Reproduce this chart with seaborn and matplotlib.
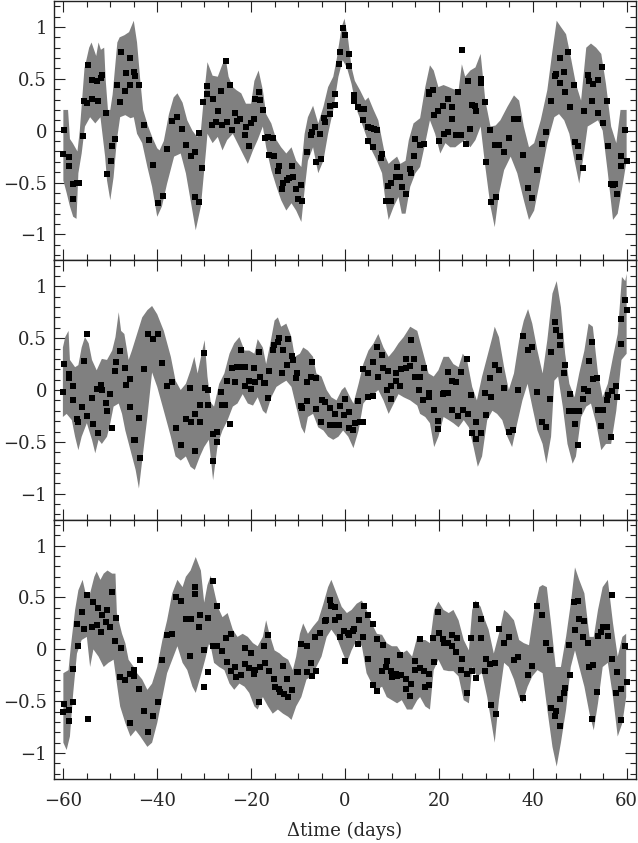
import matplotlib

matplotlib.use("Agg")
import matplotlib.pyplot as plt
import numpy as np
import seaborn as sns
from matplotlib.ticker import FuncFormatter, MultipleLocator

# ---- panel 1 -------------------------------------------------------------
band1_hi_x = [-60, -59, -58.6, -58, -57, -56.5, -56, -55.5, -54.5, -54, -53, -52.5, -52, -51.3, -51,
              -50.5, -50, -49.5, -49, -48.5, -48, -47, -46, -45, -44.3, -43.6, -43, -42, -41, -40,
              -39.5, -38.6, -37.5, -36.5, -35.7, -34.6, -33.6, -32.5, -31.5, -30.7, -30, -29.3,
              -28.2, -27.1, -26.1, -25.4, -24.8, -23.9, -23.1, -22.1, -21.1, -20, -19.3, -18.4,
              -17.5, -16.8, -15.7, -14.6, -13.6, -12.5, -11.4, -10.4, -9.3, -8.6, -7.9, -6.8, -5.7,
              -4.6, -3.6, -2.5, -1.8, -0.7, -0.1, 0.7, 1.4, 2.1, 3.2, 4.3, 5, 6.1, 7.1, 7.9, 8.6,
              9.3, 10, 11.1, 11.8, 12.9, 13.6, 14.6, 16, 17.1, 18.1, 18.9, 19.9, 21, 22.1, 23.1,
              24.2, 24.9, 25.6, 26.7, 27.8, 28.9, 29.9, 31, 32.1, 33.1, 34.6, 36, 37.1, 38.1, 39.2,
              40.3, 41.7, 43.1, 44.2, 45.1, 46, 47.1, 48.1, 49.2, 50.3, 51.4, 52.4, 53.5, 54.6,
              55.6, 56.7, 57.8, 58.7, 59.7, 60]
band1_hi = [0.20, 0.20, -0.08, -0.12, -0.2, 0.0, 0.3, 0.6, 0.80, 0.85, 0.72, 0.85, 0.78, 0.8, 0.5,
            0.2, 0.2, 0.35, 0.6, 0.85, 0.9, 0.92, 0.95, 1.06, 0.85, 0.48, 0.2, 0.05, -0.07, -0.17,
            -0.19, -0.1, 0.16, 0.32, 0.36, 0.27, 0.1, 0.0, -0.06, 0.0, 0.35, 0.66,
            0.53, 0.52, 0.64, 0.69, 0.52, 0.42, 0.39, 0.36, 0.26, 0.26, 0.48, 0.58,
            0.39, 0.16, 0.07, -0.09, -0.16, -0.22, -0.16, -0.29, -0.35, -0.03, 0.13, 0.24, 0.07,
            0.23, 0.42, 0.52, 0.68, 1.0, 1.08, 0.87, 0.61, 0.48, 0.39, 0.29, 0.32, 0.2, 0.1, -0.09, -0.25,
            -0.32, -0.29, -0.25, -0.32, -0.29, -0.09, 0.07, 0.12, 0.42, 0.63, 0.58, 0.42, 0.44, 0.42, 0.40,
            0.39, 0.64, 0.52, 0.58, 0.61, 0.74, 0.29, 0.04, 0.05, 0.1, 0.23, 0.34, 0.29, 0.04, -0.16,
            -0.12, 0.1, 0.39, 0.77, 1.06, 1.0, 0.93, 0.71, 0.45, 0.29, 0.8, 0.84, 0.8, 0.74,
            0.45, 0.04, -0.12, 0.2, 0.2, 0.2]
band1_lo_x = [-60, -59.3, -58.6, -57.9, -57.2, -56.8, -56.1, -55.4, -54.3, -53.2, -52.1, -51.1, -50.7,
              -50, -49.3, -48.6, -47.9, -46.8, -45.7, -45, -44.3, -43.2, -42.1, -41.1, -40, -39,
              -37.9, -36.4, -35, -33.9, -32.9, -31.8, -30.7, -29.6, -29.3, -28.2, -27.1, -26.1,
              -25.1, -23.9, -22.9, -21.8, -20.7, -19.6, -18.6, -17.5, -16.8, -15.7, -14.6, -13.6,
              -12.5, -11.4, -10.4, -9.3, -8.6, -7.9, -6.8, -5.7, -4.6, -3.6, -2.5, -1.4, -0.5, 0.4,
              1.4, 2.5, 3.6, 4.6, 5.7, 6.8, 7.9, 8.6, 9.3, 10.4, 11.4, 12.1, 12.9, 13.9, 15, 16,
              17.1, 18.1, 19.2, 20.3, 21.4, 22.4, 23.5, 24.6, 25.6, 26.7, 27.8, 28.9, 29.9, 31, 31.9,
              32.8, 33.9, 35.3, 36.7, 38.1, 39.2, 40.3, 41.7, 43.1, 44.6, 45.6, 46.7, 47.8, 48.9,
              49.9, 51, 51.7, 52.8, 53.9, 54.9, 56, 57.1, 58.1, 59.1, 60]
band1_lo = [-0.48, -0.6, -0.73, -0.83, -0.85, -0.41, -0.22, 0.04, 0.13, 0.07, 0.13, -0.25, -0.48,
            -0.67, -0.45, -0.09, 0.13, 0.15, 0.12, 0.13, -0.03, -0.12, -0.35, -0.54, -0.83, -0.73,
            -0.51, -0.25, -0.22, -0.41, -0.67, -0.96, -0.73, -0.19, -0.03, -0.12, -0.06, -0.19,
            -0.09, -0.03, -0.12, -0.22, -0.32, -0.19, -0.09, 0.04, -0.16, -0.38, -0.54, -0.67,
            -0.77, -0.70, -0.77, -0.88, -0.57, -0.29, -0.16, -0.41, -0.29, -0.03, 0.20, 0.52, 0.68, 0.61,
            0.45, 0.2, 0.07, -0.06, -0.19, -0.29, -0.41, -0.67, -0.86, -0.73, -0.64, -0.80, -0.80, -0.54, -0.41, -0.35,
            -0.12, 0.1, -0.03, -0.22, -0.12, -0.16, -0.16, -0.12, -0.09, -0.16, -0.09, 0.04, -0.35, -0.73, -0.93,
            -0.61, -0.38, -0.25, -0.41, -0.67, -0.86, -0.77, -0.45, -0.12, 0.13, 0.16, 0.1, -0.03, -0.29,
            -0.51, -0.19, 0.04, 0.07, 0.1, 0, -0.41, -0.86, -0.80, -0.54, -0.29]
pts1_x = [-60, -59.8, -58.9, -58.8, -58, -57.9, -57, -56.6, -55.9, -55.7, -55, -54.7, -53.9, -53.8,
          -52.9, -52.7, -52, -51.7, -50.9, -50.7, -49.9, -49.7, -48.9, -48.6, -47.9, -47.7, -46.9,
          -46.6, -45.9, -45.7, -45, -44.7, -43.9, -42.9, -41.8, -40.9, -39.8, -38.8, -37.9, -36.8,
          -35.7, -34.8, -33.8, -32.9, -31.9, -32, -31, -31.1, -30.4, -30.2, -29.3, -29.3, -28.2,
          -28.4, -27.4, -27.1, -26.4, -26.1, -25.4, -25.2, -24.4, -24.1, -23.4, -23.1, -22.3, -21.4,
          -21.1, -20.4, -20.1, -19.3, -19.1, -18.4, -18.1, -17.4, -17, -16.3, -15.4, -16.2, -15.2,
          -14.1, -14.3, -13.2, -13.4, -12.4, -11.9, -11.2, -11.1, -10.4, -10.1, -9.3, -9.1, -8.2,
          -7.3, -7.1, -6.3, -6.1, -5.2, -5.4, -4.4, -4.2, -3.2, -3.1, -2.1, -2.1, -1.2, -1, -0.4,
          -0.1, 0.8, 0.9, 1.9, 2, 2.7, 3.4, 4, 3.8, 5, 5.5, 6.1, 6.8, 4.8, 5.9, 7.9, 7.6, 9.1, 9.9,
          8.8, 9.8, 11.1, 10.9, 11.8, 12.1, 13, 13.8, 14.1, 15, 14.8, 15.9, 16.9, 17.8, 17.9, 18.7,
          19, 19.8, 20, 20.8, 21, 21.9, 22, 22.8, 22.9, 23.7, 24, 24.7, 25, 25.8, 26.1, 26.7, 27.1,
          27.8, 28, 28.9, 28.9, 29.8, 30, 30.9, 31.1, 31.9, 32.1, 32.9, 33.9, 34.9, 35.9, 36.8,
          37.9, 38.9, 39.9, 40.9, 41.9, 42.9, 43.9, 44.8, 44.9, 45.7, 45.9, 46.7, 46.9, 47.6, 47.9,
          48.7, 48.9, 49.6, 49.9, 50.7, 51, 51.7, 51.9, 52.7, 52.9, 53.8, 53.9, 54.7, 54.9, 55.8,
          56, 56.7, 57.1, 57.6, 57.9, 58.8, 58.9, 59.7, 60]
pts1_y = [-0.22, 0.01, -0.25, -0.34, -0.66, -0.51, -0.50, -0.50, -0.05, 0.29, 0.27, 0.63, 0.31, 0.49,
          0.48, 0.29, 0.51, 0.54, 0.17, -0.42, -0.29, -0.15, -0.08, 0.44, 0.28, 0.76, 0.38,
          0.56, 0.44, 0.70, 0.57, 0.53, 0.44, 0.05, -0.09, -0.33, -0.70, -0.63, -0.18, 0.09,
          0.13, 0.02, -0.14, -0.24, -0.21, -0.64, -0.69, -0.02, -0.36, 0.28, 0.43, 0.35, 0.31,
          0.05, 0.08, 0.19, 0.38, 0.05, 0.67, 0.08, 0.44, 0.01, 0.17, 0.09, 0.11, -0.04,
          0.04, -0.15, 0.07, 0.11, 0.31, 0.37, 0.30, 0.2, -0.07, -0.06, -0.07, -0.23, -0.24,
          -0.34, -0.39, -0.50, -0.56, -0.48, -0.46, -0.34, -0.45, -0.56, -0.66, -0.52, -0.68, -0.21,
          -0.04, -0.01, 0.04, -0.30, -0.27, -0.03, 0.12, 0.08, 0.24, 0.16, 0.35, 0.25, 0.64, 0.76, 0.99,
          0.92, 0.74, 0.62, 0.34, 0.29, 0.23, 0.21, 0.21, 0.10, 0.04, 0.03, 0.02, 0.01, -0.10, -0.16, -0.22, -0.26, -0.53, -0.5,
          -0.68, -0.68, -0.35, -0.45, -0.45, -0.54, -0.61, -0.37, -0.41, -0.08, -0.24, -0.14, -0.13, 0.37, 0.35, 0.39,
          0.15, 0.19, -0.10, 0.24, -0.03, 0.31, -0.01, 0.23, 0.11, -0.04, 0.37, -0.04, 0.78, -0.13, 0.48, 0.02, 0.25,
          0.24, 0.19, 0.50, 0.46, 0.28, -0.30, 0.01, -0.69, -0.14, -0.64, -0.14, -0.21, -0.07, 0.11, 0.11,
          -0.23, -0.55, -0.65, -0.38, -0.13, -0.01, 0.29, 0.53, 0.55, 0.70, 0.46, 0.57, 0.37, 0.76, 0.23,
          0.44, -0.11, -0.15, -0.25, -0.36, 0.19, 0.54, 0.48, 0.29, 0.45, 0.49, 0.17, 0.61, 0.07, 0.29,
          -0.15, -0.51, -0.52, -0.51, -0.61, -0.34, -0.24, 0.01, -0.29]

# ---- panel 2 -------------------------------------------------------------
band2_hi_x = [-60.1, -59.6, -58.9, -58.6, -57.5, -56.8, -56.1, -55.4, -54.6, -53.9, -52.9, -51.8,
              -50.7, -49.6, -48.9, -48.2, -47.7, -47, -46.1, -45.4, -44.3, -43.2, -42.1, -41.1, -40,
              -38.6, -37.1, -36.1, -35, -33.9, -32.9, -32.1, -31.4, -30.4, -29.9, -29.3, -28.6,
              -27.9, -26.8, -25.7, -24.6, -23.6, -22.5, -21.4, -20.4, -19.3, -18.6, -17.5, -16.8,
              -15.9, -15, -14.3, -13.6, -12.5, -11.4, -10.7, -9.6, -8.9, -7.9, -6.8, -6.1, -5, -3.9,
              -2.9, -1.8, -0.7, 0, 1.1, 1.8, 2.9, 3.9, 5, 6.1, 7.1, 8.2, 9.3, 10.4, 11.4, 12.5, 13.9,
              15.4, 16.7, 17.8, 18.9, 19.9, 21, 22.1, 23.1, 24.2, 25.1, 26, 27.1, 28.1, 29.2, 30.3,
              31.4, 31.9, 32.8, 33.9, 34.9, 36, 37.1, 38.1, 39, 39.9, 41, 42.1, 43.1, 44.2, 45.1, 46,
              46.9, 47.8, 48.9, 49.9, 51, 51.9, 52.8, 53.9, 54.9, 56, 57.1, 58.1, 59, 59.7, 60]
band2_hi = [0.41, 0.51, 0.57, 0.29, 0.22, 0.24, 0.41, 0.51, 0.45, 0.29, 0.19, 0.30,
            0.29, 0.38, 0.51, 0.75, 0.57, 0.54, 0.29, 0.38, 0.54, 0.70, 0.77, 0.81, 0.73,
            0.57, 0.32, 0.09, 0.0, 0.06, 0.19, 0.32, 0.16, 0.38, 0.48, 0.13, -0.12,
            -0.16, 0.06, 0.16, 0.35, 0.45, 0.51, 0.38, 0.38, 0.35, 0.49, 0.41, 0.25,
            0.45, 0.67, 0.70, 0.61, 0.64, 0.51, 0.32, 0.35, 0.41, 0.38, 0.32, 0.16, 0.13, 0.0,
            -0.07, -0.10, 0.0, 0.03, -0.07, -0.13, 0.06, 0.25, 0.38, 0.45, 0.54, 0.41, 0.32, 0.38, 0.45, 0.51, 0.61,
            0.57, 0.35, 0.16, 0.13, 0.19, 0.32, 0.32, 0.25, 0.22, 0.35, 0.29, 0.03, -0.10, 0.13, 0.32,
            0.51, 0.61, 0.51, 0.22, 0.0, 0.16, 0.48, 0.67, 0.78, 0.64, 0.38, 0.16, 0.48, 0.93, 1.05, 0.80,
            0.35, 0.06, -0.07, 0.16, 0.38, 0.64, 0.61, 0.16, -0.07, 0.06, 0.32, 0.54, 1.09, 1.05, 1.12]
band2_lo_x = [-60.1, -59.3, -58.2, -57.5, -56.8, -56.1, -55, -53.9, -53.2, -52.5, -51.8, -50.7, -50,
              -49.3, -48.2, -47.5, -46.8, -45.7, -44.6, -43.9, -43.2, -42.1, -41.1, -40, -38.6,
              -37.1, -36.1, -35, -33.9, -32.9, -32, -30.9, -30, -29, -28.1, -27.1, -26.1, -25,
              -23.9, -22.9, -21.8, -20.7, -19.6, -18.6, -17.5, -16.8, -15.7, -14.6, -13.6, -12.5,
              -11.4, -10.4, -9.3, -8.6, -7.9, -6.8, -5.7, -4.6, -3.6, -2.5, -1.4, -0.4, 0.7, 1.8,
              2.9, 3.9, 5, 6.1, 7.1, 8.2, 9.3, 10.4, 11.4, 12.5, 13.9, 15.4, 16, 17.1, 18.1, 19,
              19.9, 21, 22.1, 23.1, 24.2, 25.3, 26.4, 27.4, 28.3, 29.2, 30.3, 31.4, 32.4, 33.5,
              34.6, 35.6, 36.7, 37.8, 38.9, 39.9, 41, 42.1, 42.9, 43.9, 44.6, 45.4, 46.4, 47.4,
              48.5, 49.2, 50.3, 51.4, 52.4, 53.5, 54.6, 55.6, 56.7, 57.8, 58.9, 60]
band2_lo = [-0.26, -0.23, -0.29, -0.45, -0.58, -0.45, -0.32, -0.48, -0.61, -0.48, -0.52, -0.45, -0.32,
            -0.16, -0.13, -0.23, -0.39, -0.58, -0.77, -0.95, -0.68, -0.26, 0.17, 0.03, -0.2,
            -0.45, -0.64, -0.68, -0.64, -0.74, -0.77, -0.64, -0.55, -0.48, -0.87, -0.52, -0.39, -0.29,
            -0.16, -0.13, -0.04, -0.13, -0.15, -0.07, -0.20, -0.23, -0.07, 0.03, 0.06, 0.09,
            0.03, -0.16, -0.36, -0.42, -0.26, -0.23, -0.36, -0.39, -0.45, -0.48, -0.45, -0.39, -0.45, -0.56,
            -0.39, -0.13, -0.07, -0.04, 0, -0.10, -0.23, -0.13, -0.04, -0.07, -0.10, -0.15, -0.23, -0.26, -0.32, -0.55,
            -0.45, -0.26, -0.29, -0.32, -0.36, -0.29, -0.36, -0.55, -0.74, -0.64, -0.29, -0.2, -0.23, -0.29,
            -0.45, -0.55, -0.32, -0.10, 0.06, -0.16, -0.39, -0.52, -0.71, -0.45, 0.09, 0.13, -0.16, -0.52,
            -0.71, -0.64, -0.26, -0.16, -0.13, -0.32, -0.58, -0.52, -0.52, -0.20, 0.29, 0.35]
pts2_x = [-60, -59.8, -58.9, -58.7, -57.9, -58, -57, -56.8, -56, -55.7, -54.9, -54.9, -53.9, -53.7,
          -52.9, -52.7, -51.9, -51.8, -50.9, -50.7, -50, -49.7, -48.9, -48.7, -47.9, -46.9, -46.7,
          -45.7, -45.9, -45, -44.8, -43.9, -43.7, -42.9, -42, -40.9, -39.9, -38.9, -37.9, -36.9,
          -35.9, -34.9, -33.9, -33, -32.9, -32, -31.9, -30.9, -30.9, -30.1, -29.9, -29.1, -29.1,
          -28.1, -28.1, -27.2, -27.2, -26.4, -26.2, -25.5, -25.1, -24.4, -24.1, -23.4, -23.1,
          -22.1, -22.4, -21.3, -21.3, -20.4, -20.1, -19.4, -19.1, -18.4, -18.1, -17.3, -17, -16.4,
          -16.2, -15.4, -15.2, -14.3, -14.1, -13.2, -13.4, -12.4, -12.1, -11.3, -11.1, -10.4, -10.2,
          -9.3, -9.1, -8.2, -8.2, -7.3, -7, -6.2, -6.2, -5.2, -5, -4.2, -3.2, -3.1, -2.1, -2.2,
          -1.2, -1.1, -0.1, -0.2, 0.9, 0.9, 1.8, 2.1, 2.7, 3.1, 3.9, 3.9, 4.8, 5, 5.9, 6, 6.8, 7,
          7.9, 8, 8.9, 9.1, 9.9, 9.9, 10.9, 10.9, 11.8, 12, 12.9, 13.1, 13.8, 14.1, 15, 14.8, 15.9,
          15.7, 16.9, 16.7, 17.8, 17.9, 18.9, 19.8, 19.9, 20.8, 21, 21.9, 21.9, 22.8, 23.7, 22.9,
          24, 24.8, 25.1, 25.9, 26.1, 26.9, 27.1, 28, 27.9, 28.9, 30, 29.8, 30.9, 31, 32, 32.9,
          33.9, 34.9, 35.8, 36.9, 37.9, 38.9, 39.9, 40.9, 41.9, 42.9, 43.6, 43.9, 44.7, 44.9, 45.7,
          45.9, 46.7, 46.9, 47.9, 47.7, 48.7, 48.9, 49.9, 49.7, 50.8, 51, 51.8, 51.9, 52.7, 52.9,
          53.7, 53.9, 54.9, 54.6, 55.8, 56, 56.9, 56.7, 57.7, 57.9, 58.7, 58.9, 59.7, 60]
pts2_y = [-0.02, 0.25, 0.15, 0.12, 0.04, -0.1, -0.28, -0.31, -0.16, 0.28, 0.54, -0.25, -0.08, -0.33,
          0.01, -0.41, 0.05, 0.0, -0.13, -0.20, -0.04, -0.37, 0.18, 0.27, 0.38, 0.21, 0.05,
          0.11, -0.16, -0.48, -0.48, -0.27, -0.66, 0.20, 0.54, 0.49, 0.54, 0.26, 0.04, 0.08,
          -0.37, -0.53, -0.28, 0.02, -0.31, -0.23, -0.59, -0.14, -0.31, 0.36, 0.02, 0, -0.14,
          -0.42, -0.68, -0.40, -0.50, -0.02, -0.14, -0.14, 0.09, -0.33, 0.21, 0.08, 0.22,
          0.39, 0.22, 0.22, 0.04, 0.09, 0.01, 0.21, 0.08, 0.37, 0.13, 0.07, 0.07, -0.08,
          0.18, 0.39, 0.43, 0.46, 0.50, 0.39, 0.16, 0.24, 0.49, 0.33, 0.29, 0.12, 0.16,
          -0.15, -0.17, 0.08, -0.11, 0.13, 0.27, 0.12, -0.18, -0.31, -0.10, -0.12, -0.17, -0.34, -0.34, -0.23,
          -0.34, -0.15, -0.09, -0.24, -0.21, -0.37, -0.39, -0.32, -0.11, -0.31, 0.20, -0.31, 0.16, -0.07, 0.27, -0.06, 0.41, 0.13,
          0.34, 0.21, 0, 0.18, -0.09, 0.04, 0.16, 0.09, 0.04, 0.20, 0.21, 0.30, 0.23, 0.48, 0.13, 0.30, 0.13,
          0, 0.21, -0.10, -0.07, -0.03, -0.19, -0.30, -0.38, -0.04, -0.03, -0.03, 0.17, 0.09, 0.08, -0.19,
          -0.25, 0.17, -0.19, 0.30, -0.23, -0.05, -0.41, -0.31, -0.47, -0.41, -0.24, -0.03, 0.12, -0.07, 0.24, 0.19,
          0.02, -0.40, -0.39, 0, 0.52, 0.39, 0.41, -0.02, -0.31, -0.36, -0.09, 0.37, 0.66, 0.58, 0.52,
          0.43, 0.16, 0.24, -0.04, -0.20, -0.20, -0.33, -0.20, -0.53, -0.09, 0.01, -0.01, 0.28, 0.46, 0.11,
          0.12, -0.19, -0.19, -0.35, -0.10, -0.05, -0.01, -0.45, 0.04, -0.07, 0.68, 0.44, 0.87, 0.77]

# ---- panel 3 -------------------------------------------------------------
band3_hi_x = [-60, -58.9, -58.4, -57.5, -56.8, -55.9, -55.1, -54.3, -53.4, -52.9, -52.1, -51.4, -50.6,
              -49.6, -48.9, -48.6, -47.5, -46.8, -46.1, -45, -44.3, -43.2, -42.1, -41.1, -40, -38.9,
              -37.9, -36.8, -35.7, -34.6, -33.9, -32.9, -31.8, -30.7, -30, -29.3, -28.6, -27.9,
              -27.1, -26.1, -25, -23.9, -22.9, -21.8, -20.7, -19.6, -18.6, -17.5, -16.8, -16.1, -15,
              -13.9, -13.2, -12.1, -11.1, -10.4, -9.6, -8.9, -7.9, -6.8, -5.7, -4.6, -3.6, -2.9, -1.8,
              -0.7, 0.4, 1.4, 2.5, 3.6, 4.6, 5.7, 6.8, 7.9, 8.9, 10, 11.1, 12.1, 13.2, 14.3, 15.4, 16,
              17.1, 18.1, 19, 19.9, 21, 22.1, 23.1, 24.2, 25.3, 26.4, 27.1, 27.8, 28.9, 29.6, 30.6,
              31.7, 32.8, 33.9, 34.7, 36, 37.1, 38.1, 39.2, 40.3, 41.4, 42.1, 43, 43.9, 44.9, 46,
              47.1, 48.1, 49, 49.9, 51, 52.1, 53, 53.9, 54.9, 56, 57.1, 58.1, 59.1, 59.9]
band3_hi = [-0.23, -0.20, 0.03, 0.38, 0.57, 0.67, 0.51, 0.54, 0.70, 0.75, 0.67, 0.73, 0.76,
            0.73, 0.73, 0.35, 0.15, 0.06, -0.10, -0.17, -0.23, -0.29, -0.39, -0.33, -0.17, 0.09,
            0.28, 0.54, 0.67, 0.60, 0.70, 0.76, 0.89, 0.76, 0.45, 0.62, 0.71, 0.57,
            0.41, 0.31, 0.35, 0.19, 0.12, 0.15, 0.12, 0.06, 0.03, 0.12, 0.28, 0.15, -0.01,
            -0.04, -0.07, -0.10, -0.20, -0.07, 0.15, 0.25, 0.15, 0.22, 0.28, 0.44, 0.6, 0.67, 0.54,
            0.41, 0.35, 0.38, 0.44, 0.47, 0.38, 0.25, 0.15, 0.14, 0.06, 0.03, 0.03, -0.04, -0.01, -0.07, 0.12, 0.09,
            0.09, 0.06, 0.38, 0.46, 0.38, 0.35, 0.38, 0.28, 0.09, -0.01, 0.38, 0.47, 0.41, 0.31, 0.19,
            -0.04, 0.15, 0.38, 0.35, 0.28, 0.09, 0.06, 0.04, 0.38, 0.60, 0.62, 0.60, 0.25, -0.17, -0.17,
            0.12, 0.44, 0.79, 0.67, 0.54, 0.12, 0.12, 0.38, 0.60, 0.67, 0.25, -0.07, 0.12, 0.15]
band3_lo_x = [-60, -59.3, -58.6, -57.9, -57.1, -56.1, -55, -54.3, -53.6, -52.5, -51.4, -50.4, -49.3,
              -48.6, -47.9, -46.8, -45.7, -44.6, -43.6, -42.1, -41.1, -40, -38.9, -37.9, -36.8,
              -35.7, -34.6, -33.6, -32.5, -31.8, -30.7, -29.8, -29, -28.6, -27.9, -26.8, -25.7,
              -24.6, -23.6, -22.5, -21.4, -20.4, -19.3, -18.6, -17.5, -16.4, -15.4, -14.3, -13.2,
              -12.1, -11.4, -10.4, -9.3, -8.2, -7.1, -6.1, -5, -3.9, -2.9, -1.8, -0.7, 0.4, 1.4, 2.5,
              3.6, 4.6, 5.7, 6.8, 7.9, 8.9, 10, 11.1, 12.1, 13.2, 14.3, 15.4, 16, 17.1, 18.1, 18.9,
              19.9, 21, 22.1, 23.1, 24.2, 25.3, 26.4, 27.1, 28.1, 29.2, 30.3, 31.1, 31.9, 32.8, 33.9,
              34.9, 36, 37.1, 37.8, 38.9, 39.9, 41, 42.1, 43.1, 44.2, 45.1, 46, 47.1, 48.1, 49, 49.9,
              51, 52.1, 53, 53.9, 54.9, 56, 57.1, 58.1, 59.1, 59.9]
band3_lo = [-0.90, -0.97, -0.84, -0.42, -0.04, 0.09, 0.12, -0.17, 0, -0.07, -0.17, -0.13, -0.10,
            -0.33, -0.55, -0.71, -0.84, -0.78, -0.84, -0.94, -0.90, -0.71, -0.46, -0.23, -0.10,
            0.03, -0.13, -0.20, -0.36, -0.42, -0.25, -0.1, 0.05, 0.03, -0.13, -0.17, -0.20,
            -0.33, -0.39, -0.33, -0.36, -0.42, -0.55, -0.58, -0.46, -0.55, -0.62, -0.58, -0.62,
            -0.65, -0.68, -0.55, -0.46, -0.29, -0.26, -0.17, -0.07, 0.12, 0.19, 0.12, -0.01, -0.13, -0.01, 0.09,
            0.03, -0.23, -0.33, -0.39, -0.36, -0.46, -0.49, -0.52, -0.49, -0.58, -0.58, -0.49, -0.46, -0.55, -0.58, -0.20,
            -0.10, -0.20, -0.21, -0.21, -0.26, -0.49, -0.52, -0.17, -0.26, -0.23, -0.46, -0.68, -0.90, -0.49, -0.13,
            -0.17, -0.29, -0.46, -0.52, -0.36, -0.26, -0.20, -0.23, -0.58, -0.94, -1.13, -0.90, -0.58, -0.17, -0.01, -0.17,
            -0.36, -0.62, -0.78, -0.52, -0.17, -0.13, -0.46, -0.84, -0.71, -0.46]
pts3_x = [-60, -59.8, -58.9, -58.8, -57.9, -58, -57, -56.8, -56, -55.7, -55, -54.8, -53.9, -53.7,
          -52.9, -52.7, -51.9, -51.8, -50.9, -50.7, -50, -49.7, -48.9, -48.7, -47.9, -47.7, -46.8,
          -45.9, -45.7, -44.9, -44.9, -43.9, -43.7, -42.9, -42, -40.9, -39.9, -38.9, -37.9, -36.9,
          -35.9, -34.9, -33.9, -33, -32.9, -32, -31.9, -31, -30.9, -30.1, -30.1, -29.2, -29.1,
          -28.2, -28.1, -27.2, -27.2, -26.2, -25.4, -24.3, -25.2, -24.3, -23.4, -23.2, -22.1,
          -21.4, -21.2, -20.4, -20.1, -19.4, -19.1, -18.4, -18.2, -17.3, -17, -16.3, -16.1, -15.2,
          -15, -14.1, -13.9, -13.2, -13.1, -12.3, -12.1, -11.2, -10.2, -10, -9.3, -8.2, -8.1, -7.3,
          -7.1, -6.3, -6.1, -5.4, -4.3, -4.1, -3.2, -3, -2.2, -2.1, -1.2, -1.1, -0.2, 0, 0.7, 0.9,
          1.7, 1.9, 2.7, 3, 3.8, 4, 4.8, 5, 5.9, 6, 6.8, 6.9, 7.9, 8, 8.8, 8.9, 9.9, 10, 10.9, 11.1,
          11.8, 12, 12.9, 13, 13.9, 14.1, 14.9, 15, 15.9, 16, 16.9, 17.8, 17, 17.9, 18.7, 19, 19.8,
          20, 20.8, 21, 21.9, 22.8, 22.9, 23.9, 23.7, 24.9, 24.7, 25.9, 26, 26.9, 27, 27.9, 28,
          28.9, 29, 29.8, 30, 30.9, 31, 31.9, 32.1, 32.9, 33.9, 34.9, 35.9, 36.9, 37.9, 38.9, 39.9,
          40.9, 41.9, 42.9, 43.7, 43.9, 44.7, 44.9, 45.7, 45.9, 46.7, 46.9, 47.9, 47.7, 48.7, 48.9,
          49.7, 49.9, 50.9, 50.8, 51.8, 51.9, 52.7, 52.9, 53.7, 53.9, 54.6, 54.9, 55.8, 56, 56.9,
          56.9, 57.7, 57.9, 58.7, 58.9, 59.7, 60]
pts3_y = [-0.60, -0.53, -0.58, -0.69, -0.51, -0.19, 0.24, 0.03, 0.36, 0.20, 0.52, -0.67, 0.22, 0.46,
          0.23, 0.40, 0.17, 0.33, 0.26, 0.38, 0.22, 0.55, 0.08, 0.30, -0.27, 0.01, -0.30,
          -0.24, -0.71, -0.26, -0.20, -0.38, -0.10, -0.59, -0.80, -0.64, -0.51, -0.10, 0.14, 0.15,
          0.50, 0.47, 0.29, -0.06, 0.29, 0.53, 0.60, 0.22, 0.33, -0.01, -0.36, 0.30, -0.22,
          0.66, 0.03, 0.03, 0.42, -0.02, 0.11, 0.15, -0.12, -0.21, -0.17, -0.27, -0.25,
          0.01, -0.14, -0.18, -0.04, -0.24, -0.2, -0.51, -0.17, 0.03, -0.13, 0.14, -0.21, -0.29,
          -0.36, -0.38, -0.41, -0.16, -0.43, -0.29, -0.46, -0.39, -0.22, -0.22, 0.05, 0.03, -0.22, -0.13,
          -0.26, 0.12, -0.21, 0.16, 0.27, 0.28, 0.48, 0.42, 0.41, 0.28, 0.31, 0.12, 0.18, -0.11, 0.16, 0.14,
          0.18, 0.20, 0.05, 0.28, 0.12, 0.42, -0.09, 0.33, -0.34, 0.24, -0.40, 0.10, -0.21, 0.04, -0.17, -0.11, -0.21, -0.27, -0.24, -0.26,
          -0.05, -0.25, -0.29, -0.38, -0.45, -0.33, -0.11, -0.2, 0.10, -0.18, -0.21, -0.24, -0.36, -0.34, 0.11, -0.12, 0.36,
          0.16, 0.10, 0.06, 0.06, 0.03, 0.14, 0.11, -0.03, -0.09, -0.20, -0.24, -0.42, 0.11, -0.21, 0.43, -0.28,
          0.29, 0.11, -0.21, -0.09, -0.14, -0.54, -0.13, -0.62, 0.2, 0.06, 0.12, -0.10, -0.07, -0.47, -0.25, -0.16,
          0.42, 0.33, 0.06, -0.01, -0.57, -0.64, -0.59, -0.74, -0.48, -0.42, -0.37, -0.25, 0.04, 0.46, 0.19,
          0.47, 0.29, 0.27, 0.12, 0.06, -0.17, -0.67, -0.15, -0.41, 0.13, 0.17, 0.22, 0.22, 0.13, 0.52,
          -0.09, -0.42, -0.22, -0.68, -0.38, 0.03, -0.31]

X_TICKS = [-60, -40, -20, 0, 20, 40, 60]
Y_TICKS = [-1, -0.5, 0, 0.5, 1]

sns.set_style("ticks")
plt.rcParams["font.family"] = ["DejaVu Serif"]
plt.rcParams["axes.unicode_minus"] = True


def fmt(v, pos):
    s = f"{v:g}"
    return s.replace("-", "\u2212")


def draw_panel(ax, hx, hy, lx, ly, px, py):
    poly_x = np.concatenate([np.asarray(hx, float), np.asarray(lx, float)[::-1]])
    poly_y = np.concatenate([np.asarray(hy, float), np.asarray(ly, float)[::-1]])
    ax.fill(poly_x, poly_y, color="#808080", lw=0, zorder=1)
    sns.scatterplot(x=px, y=py, marker="s", s=20, color="black", linewidth=0,
                    ax=ax, legend=False, zorder=3)
    ax.set_xlim(-62, 62)
    ax.set_ylim(-1.25, 1.25)
    ax.set_xticks(X_TICKS)
    ax.set_yticks(Y_TICKS)
    ax.xaxis.set_minor_locator(MultipleLocator(5))
    ax.yaxis.set_minor_locator(MultipleLocator(0.1))
    ax.yaxis.set_major_formatter(FuncFormatter(fmt))
    ax.xaxis.set_major_formatter(FuncFormatter(fmt))
    ax.tick_params(which="both", direction="in", top=True, right=True, width=0.8,
                   color="#222222", labelsize=13)
    ax.tick_params(which="major", length=8)
    ax.tick_params(which="minor", length=4.5)
    ax.tick_params(axis="y", pad=5)
    ax.tick_params(axis="x", pad=9)
    for sp in ax.spines.values():
        sp.set_linewidth(1.0)
        sp.set_color("#222222")
    ax.set_xlabel("")
    ax.set_ylabel("")


fig, axes = plt.subplots(3, 1, figsize=(6.38, 8.43), dpi=100, sharex=True)
plt.subplots_adjust(left=0.0846, right=0.9969, bottom=0.0759, top=0.9988, hspace=0)

draw_panel(axes[0], band1_hi_x, band1_hi, band1_lo_x, band1_lo, pts1_x, pts1_y)
draw_panel(axes[1], band2_hi_x, band2_hi, band2_lo_x, band2_lo, pts2_x, pts2_y)
draw_panel(axes[2], band3_hi_x, band3_hi, band3_lo_x, band3_lo, pts3_x, pts3_y)

for ax in axes[:2]:
    ax.tick_params(labelbottom=False)
axes[2].set_xlabel("\u0394time (days)", fontsize=13, labelpad=9)

fig.savefig("out.png", dpi=100)
plt.close(fig)
